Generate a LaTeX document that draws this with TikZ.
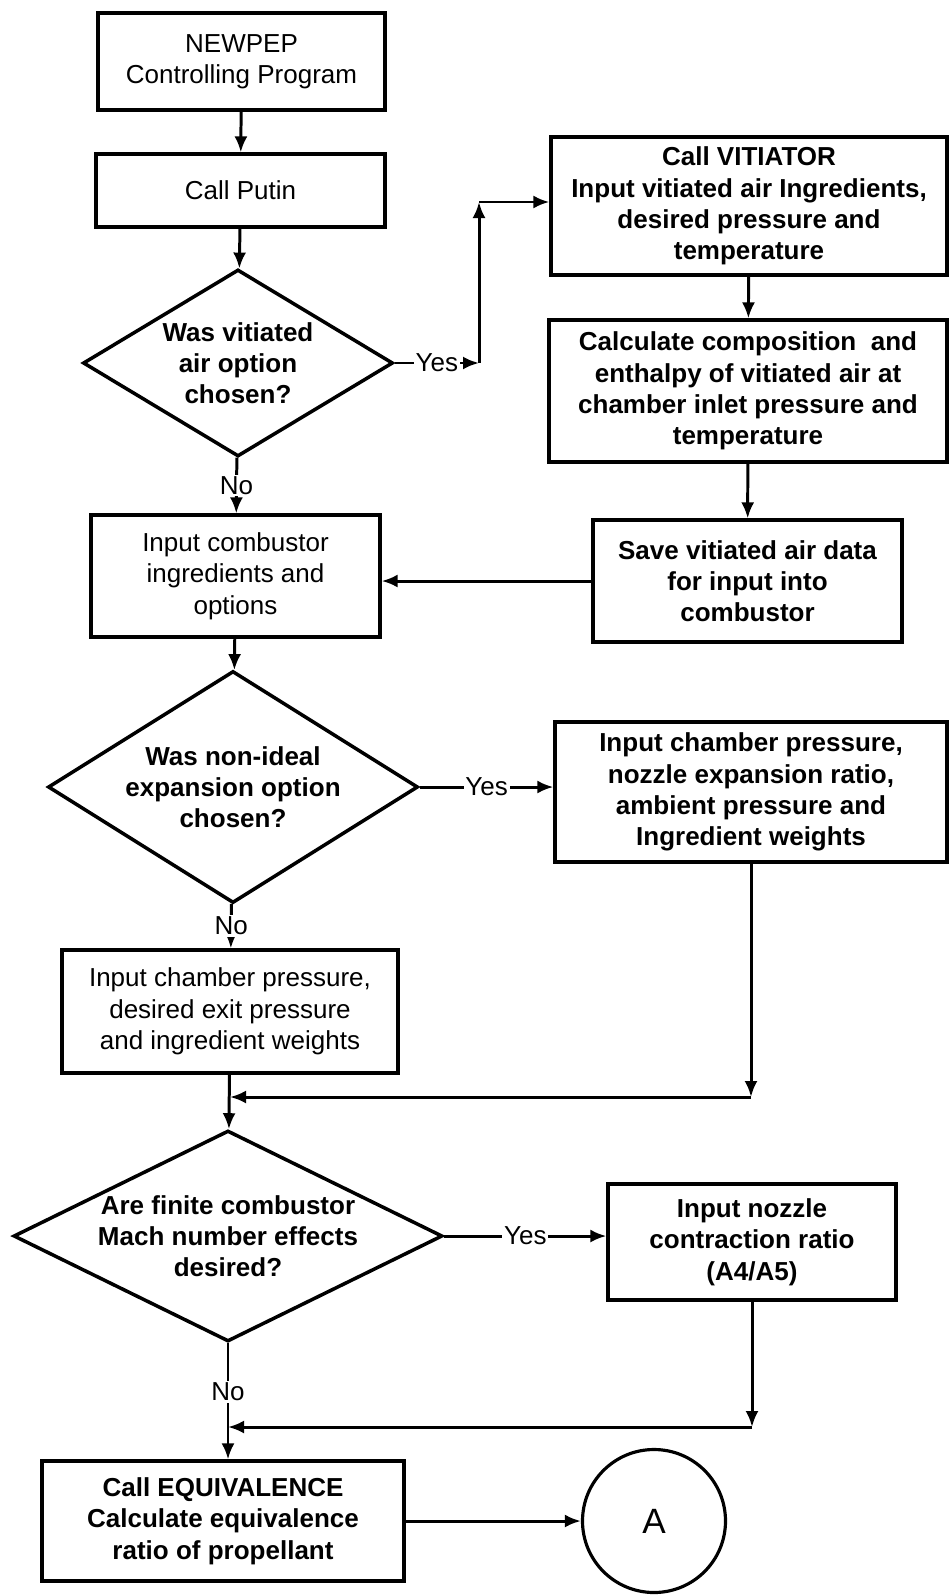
\documentclass[tikz,border=0pt]{standalone}
\usepackage{fontspec}
\setmainfont{Liberation Sans}
\usetikzlibrary{shapes.geometric,arrows.meta}

\begin{document}
\begin{tikzpicture}[
    every node/.style={font=\fontsize{14.8}{17.8}\selectfont},
    box/.style={draw,line width=1.8pt,align=center,inner sep=0pt},
    bbox/.style={box,font=\fontsize{14.8}{17.8}\selectfont\bfseries},
    decision/.style={diamond,draw,line width=2pt,align=center,inner sep=-5mm,
        font=\fontsize{14.8}{17.8}\selectfont\bfseries},
    tag/.style={fill=white,inner sep=1pt},
    flow/.style={line width=1.7pt,-{Latex[length=3.2mm,width=2.6mm]}}]
    \useasboundingbox (0,0) rectangle (18.98,-31.90);

    % left column
    \node[box,minimum width=5.74cm,minimum height=1.94cm] (top) at (4.83,-1.23)
        {NEWPEP\\Controlling Program};
    \node[box,minimum width=5.78cm,minimum height=1.46cm] (putin) at (4.81,-3.81)
        {Call Putin};
    \node[decision,minimum width=6.20cm,minimum height=3.74cm,aspect=1.66] (d1) at (4.76,-7.26)
        {Was vitiated\\air option\\chosen?};
    \node[box,minimum width=5.78cm,minimum height=2.44cm] (comb) at (4.71,-11.52)
        {Input combustor\\ingredients and\\options};
    \node[decision,minimum width=7.40cm,minimum height=4.64cm,aspect=1.6] (d2) at (4.66,-15.74)
        {Was non-ideal\\expansion option\\chosen?};
    \node[box,minimum width=6.72cm,minimum height=2.46cm] (cp) at (4.60,-20.23)
        {Input chamber pressure,\\desired exit pressure\\and ingredient weights};
    \node[decision,minimum width=8.58cm,minimum height=4.22cm,aspect=2] (d3) at (4.56,-24.72)
        {Are finite combustor\\Mach number effects\\desired?};
    \node[bbox,minimum width=7.24cm,minimum height=2.40cm] (equiv) at (4.46,-30.42)
        {Call EQUIVALENCE\\Calculate equivalence\\ratio of propellant};

    % right column
    \node[bbox,minimum width=7.92cm,minimum height=2.76cm] (vit) at (14.98,-4.12)
        {Call VITIATOR\\Input vitiated air Ingredients,\\desired pressure and\\temperature};
    \node[bbox,minimum width=7.96cm,minimum height=2.84cm] (calc) at (14.96,-7.82)
        {Calculate composition\ \ and\\enthalpy of vitiated air at\\chamber inlet pressure and\\temperature};
    \node[bbox,minimum width=6.18cm,minimum height=2.44cm] (save) at (14.95,-11.62)
        {Save vitiated air data\\for input into\\combustor};
    \node[bbox,minimum width=7.84cm,minimum height=2.80cm] (ni) at (15.02,-15.84)
        {Input chamber pressure,\\nozzle expansion ratio,\\ambient pressure and\\Ingredient weights};
    \node[bbox,minimum width=5.76cm,minimum height=2.32cm] (noz) at (15.04,-24.84)
        {Input nozzle\\contraction ratio\\(A4/A5)};
    \node[draw,circle,line width=1.8pt,minimum size=2.86cm,
        font=\fontsize{20}{24}\selectfont] (circ) at (13.08,-30.42) {A};

    \coordinate (y1) at (9.58,-7.26);
    \coordinate (y2) at (9.58,-4.04);
    \coordinate (m1) at (15.02,-21.94);
    \coordinate (m2) at (15.04,-28.54);

    % connectors
    \draw[flow] (top) -- (putin);
    \draw[flow] (putin) -- (d1);
    \draw[flow] (d1) -- (y1) node[tag,midway] {Yes};
    \draw[flow] (y1) -- (y2);
    \draw[flow] (y2) -- (y2 -| vit.west);
    \draw[flow] (vit) -- (calc);
    \draw[flow] (calc) -- (save);
    \draw[flow] (save) -- (save -| comb.east);
    \draw[flow] (d1) -- (comb) node[tag,midway] {No};
    \draw[flow] (comb) -- (d2);
    \draw[flow] (d2) -- (d2 -| ni.west) node[tag,midway] {Yes};
    \draw[flow] (d2) -- (cp) node[tag,midway] {No};
    \draw[flow] (ni) -- (m1);
    \draw[flow] (m1) -- (m1 -| cp.south);
    \draw[flow] (cp) -- (d3);
    \draw[flow] (d3) -- (d3 -| noz.west) node[tag,midway] {Yes};
    \draw[flow] (d3.south) -- (d3.south |- equiv.north) node[tag,pos=0.42] {No};
    \draw[flow] (noz) -- (m2);
    \draw[flow] (m2) -- (m2 -| d3.south);
    \draw[flow] (equiv) -- (circ);
\end{tikzpicture}
\end{document}
